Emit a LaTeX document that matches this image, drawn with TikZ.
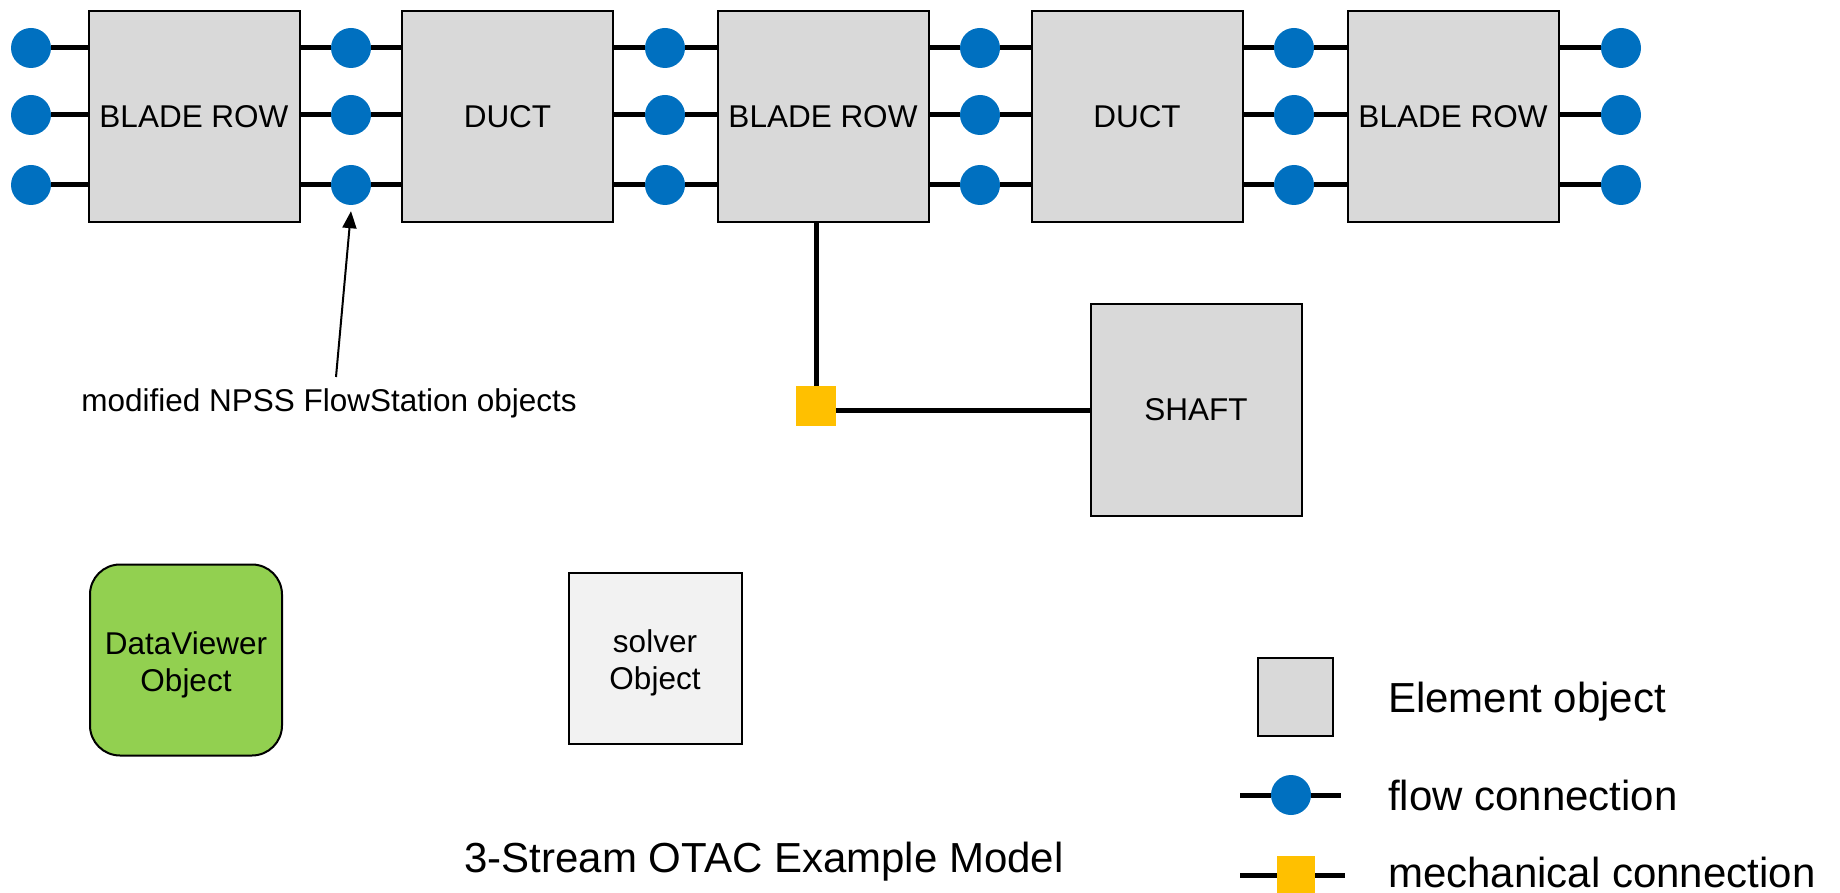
\documentclass[tikz,border=0pt]{standalone}
\usepackage{fontspec}
\setmainfont{Liberation Sans}
\usetikzlibrary{arrows.meta}
\definecolor{elemgray}{HTML}{D9D9D9}
\definecolor{flowblue}{HTML}{0070C0}
\definecolor{mechyellow}{HTML}{FFC000}
\definecolor{dvgreen}{HTML}{92D050}
\definecolor{solvergray}{HTML}{F2F2F2}
\begin{document}
\begin{tikzpicture}[x=1pt,y=-1pt,
  elem/.style={draw=black, line width=2pt, fill=elemgray, minimum width=211pt, minimum height=211pt,
    inner sep=0pt, align=center, font=\fontsize{31.5}{36}\selectfont},
  fc/.style={circle, fill=flowblue, minimum size=40pt, inner sep=0pt},
  mc/.style={rectangle, fill=mechyellow, minimum size=40pt, inner sep=0pt},
  link/.style={line width=5pt},
  smalltext/.style={font=\fontsize{31.5}{37}\selectfont, inner sep=0pt},
  bigtext/.style={font=\fontsize{42}{48}\selectfont, inner sep=0pt},
  pointer/.style={line width=2pt, -{Triangle[length=17pt,width=14pt]}}]
\useasboundingbox (0,0) rectangle (1840,893);

% element boxes
\node[elem] (b1) at (194,116.5) {BLADE ROW};
\node[elem] (b2) at (507.5,116.5) {DUCT};
\node[elem] (b3) at (823,116.5) {BLADE ROW};
\node[elem] (b4) at (1137,116.5) {DUCT};
\node[elem] (b5) at (1453,116.5) {BLADE ROW};

% flow stations
\foreach \i/\x in {0/31,1/351,2/665,3/980,4/1294,5/1621}
  \foreach \j/\y in {1/48,2/115,3/185}
    \node[fc] (c\i\j) at (\x,\y) {};

\foreach \j in {1,2,3} {
  \draw[link] (c0\j) -- (b1.west |- c0\j);
  \draw[link] (c5\j) -- (b5.east |- c5\j);
}
\foreach \i/\l/\r in {1/b1/b2,2/b2/b3,3/b3/b4,4/b4/b5}
  \foreach \j in {1,2,3} {
    \draw[link] (\l.east |- c\i\j) -- (c\i\j);
    \draw[link] (c\i\j) -- (\r.west |- c\i\j);
  }

% shaft and mechanical connection
\node[elem] (shaft) at (1196,410) {SHAFT};
\node[mc] (sq) at (816,406) {};
\draw[link] (sq.north |- b3.south) -- (sq.north);
\draw[link] (sq.east |- shaft.west) -- (shaft.west);

% annotation
\node[smalltext, anchor=base] (note) at (329,411) {modified NPSS FlowStation objects};
\coordinate (ntail) at (336,377);
\draw[pointer] (ntail) -- ([yshift=-6pt]c13.south);

% other objects
\node[draw=black, line width=2pt, fill=dvgreen, rounded corners=30pt, minimum width=192pt,
  minimum height=191pt] (dv) at (186,660) {};
\node[smalltext, align=center] (dvtxt) at ([yshift=-5pt]dv.center) {DataViewer\\Object};
\node[draw=black, line width=2pt, fill=solvergray, minimum width=173pt,
  minimum height=171pt] (solver) at (655,658) {};
\node[smalltext, align=center] (solvertxt) at ([yshift=-5pt]solver.center) {solver\\Object};

% title
\node[bigtext, anchor=base] (title) at (764,872) {3-Stream OTAC Example Model};

% legend
\node[elem, minimum width=75pt, minimum height=78pt] (legelem) at (1295,697) {};
\node[bigtext, anchor=base west] (legelemtxt) at (1388,712) {Element object};

\coordinate (flL) at (1240,795);
\coordinate (flR) at (1341,795);
\node[fc] (legfc) at (1291,795) {};
\draw[link] (flL) -- (legfc);
\draw[link] (legfc) -- (flR);
\node[bigtext, anchor=base west] (legfctxt) at (1388,810) {flow connection};

\coordinate (mcL) at (1240,875);
\coordinate (mcR) at (1345,875);
\node[mc, minimum size=38pt] (legmc) at (1296,875) {};
\draw[link] (mcL) -- (legmc);
\draw[link] (legmc) -- (mcR);
\node[bigtext, anchor=base west] (legmctxt) at (1388,887) {mechanical connection};
\end{tikzpicture}
\end{document}
